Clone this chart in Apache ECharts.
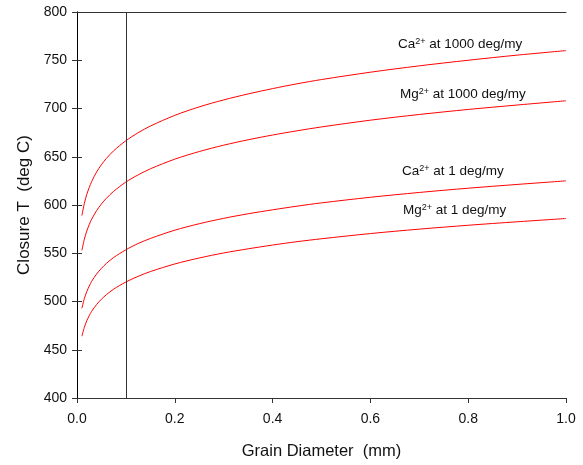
<!DOCTYPE html>
<html>
<head>
<meta charset="utf-8">
<style>
  html, body { margin: 0; padding: 0; background: #fff; }
  #main { width: 583px; height: 465px; }
</style>
<script src="https://cdn.jsdelivr.net/npm/echarts@6/dist/echarts.min.js"></script>
</head>
<body>
<div id="main"></div>
<script>
// grain diameter (mm)
var diameter = [0.01, 0.015, 0.02, 0.025, 0.03, 0.04, 0.05, 0.06, 0.075, 0.1, 0.125, 0.15, 0.2, 0.25,
                0.3, 0.35, 0.4, 0.45, 0.5, 0.6, 0.7, 0.8, 0.9, 1.0];

// closure temperature (deg C)
var ca1000 = [589, 601.6, 611, 618.1, 624.3, 634.1, 641.8, 648.2, 656.2, 666.6, 674.9, 681.8, 692.9, 701.7,
              708.9, 715.1, 720.6, 725.6, 730, 737.6, 744.2, 750, 755.3, 760];
var mg1000 = [553, 564.5, 573, 579.7, 585.3, 594.1, 601.1, 606.9, 614.2, 623.8, 631.2, 637.5, 647.5, 655.4,
              662, 667.6, 672.5, 676.9, 680.9, 687.9, 693.8, 699, 703.6, 708];
var ca1    = [493, 503, 510.2, 516, 520.9, 528.4, 534.4, 539.4, 545.6, 553.6, 560.1, 565.3, 573.9, 580.6,
              586.2, 590.9, 595, 598.8, 602.2, 608, 613, 617.4, 621.3, 625];
var mg1    = [464, 473.2, 480, 485.3, 489.8, 496.8, 502.4, 507, 512.8, 520.2, 526.1, 531, 538.9, 545.1,
              550.3, 554.6, 558.5, 562, 565, 570.4, 575, 579, 582.6, 586];

var cutoff = 0.1;

var curveNames = ['Ca{s|2+} at 1000 deg/my', 'Mg{s|2+} at 1000 deg/my', 'Ca{s|2+} at 1 deg/my', 'Mg{s|2+} at 1 deg/my'];
var curveData = [ca1000, mg1000, ca1, mg1];

var font = 'Liberation Sans, Arial, sans-serif';
var axisColor = '#333';

function pairs(ys) {
  return diameter.map(function (x, i) { return [x, ys[i]]; });
}

var series = curveData.map(function (ys, k) {
  var s = {
    type: 'line',
    data: pairs(ys),
    smooth: 0.3,
    showSymbol: false,
    silent: true,
    lineStyle: { color: '#ff0000', width: 1 }
  };
  if (k === 0) {
    s.markLine = {
      silent: true,
      symbol: ['none', 'none'],
      label: { show: false },
      lineStyle: { color: axisColor, width: 1, type: 'solid' },
      data: [{ xAxis: cutoff }]
    };
  }
  return s;
});

// label positions (pixels) next to the curves
var labelPos = [[398, 37], [400, 87], [402, 164], [403, 203]];

var myChart = echarts.init(document.getElementById('main'));
myChart.setOption({
  animation: false,
  grid: { left: 77, right: 17, top: 12, bottom: 66 },
  xAxis: [{
    type: 'value',
    min: 0, max: 1, interval: 0.2,
    name: 'Grain Diameter  (mm)',
    nameLocation: 'middle',
    nameGap: 45,
    nameTextStyle: { fontFamily: font, fontSize: 16.5, color: '#111' },
    axisLine: { show: true, lineStyle: { color: axisColor, width: 1 } },
    axisTick: { show: true, inside: false, length: 5, lineStyle: { color: axisColor } },
    axisLabel: { fontFamily: font, fontSize: 14, color: '#111', margin: 14,
      formatter: function (v) { return v.toFixed(1); } },
    splitLine: { show: false }
  }, {
    type: 'value', position: 'top',
    min: 0, max: 1,
    axisLine: { show: true, lineStyle: { color: axisColor, width: 1 } },
    axisTick: { show: false }, axisLabel: { show: false }, splitLine: { show: false }
  }],
  yAxis: [{
    type: 'value',
    min: 400, max: 800, interval: 50,
    name: 'Closure T  (deg C)',
    nameLocation: 'middle',
    nameGap: 43,
    nameTextStyle: { fontFamily: font, fontSize: 17, color: '#111' },
    axisLine: { show: true, lineStyle: { color: axisColor, width: 1 } },
    axisTick: { show: true, inside: false, length: 5, lineStyle: { color: axisColor } },
    axisLabel: { fontFamily: font, fontSize: 14, color: '#111', margin: 10 },
    splitLine: { show: false }
  }, {
    type: 'value', position: 'right',
    min: 400, max: 800, interval: 50,
    axisLine: { show: true, lineStyle: { color: '#000', width: 1 } },
    axisTick: { show: true, inside: false, length: 5, lineStyle: { color: axisColor } },
    axisLabel: { show: false }, splitLine: { show: false }
  }],
  series: series,
  graphic: curveNames.map(function (t, i) {
    return {
      type: 'text',
      left: labelPos[i][0],
      top: labelPos[i][1],
      silent: true,
      style: {
        text: t,
        fontFamily: font,
        fontSize: 13.5,
        fill: '#111',
        rich: {
          s: { fontFamily: font, fontSize: 9, fill: '#111', verticalAlign: 'top', padding: [0, 0, 6, 0] }
        }
      }
    };
  })
});
</script>
</body>
</html>
